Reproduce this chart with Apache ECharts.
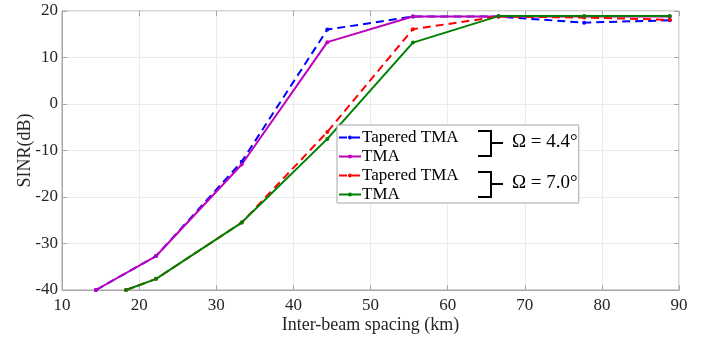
<!DOCTYPE html>
<html>
<head>
<meta charset="utf-8">
<script src="https://cdn.jsdelivr.net/npm/echarts@6/dist/echarts.min.js"></script>
<style>
  html, body { margin: 0; padding: 0; background: #fff; }
  #chart { width: 703px; height: 339px; }
</style>
</head>
<body>
<div id="chart"></div>
<script>
// spacing (km) and SINR (dB)
const spacing = [14.4, 22.2, 33.3, 44.4, 55.5, 66.6, 77.7, 88.8];
const spacing7 = [18.3, 22.2, 33.3, 44.4, 55.5, 66.6, 77.7, 88.8];

const taperedA = [-40, -32.7, -12.4, 16.0, 18.8, 18.8, 17.5, 18.0];
const tmaA = [-40, -32.7, -13.0, 13.3, 18.8, 18.8, 18.8, 18.8];
const taperedB = [-40, -37.6, -25.5, -6.0, 16.1, 18.8, 18.6, 18.1];
const tmaB = [-40, -37.6, -25.5, -7.5, 13.2, 18.9, 18.9, 18.9];

const names = ['Tapered TMA', 'TMA', 'Tapered TMA ', 'TMA '];
const colors = ['#0000ff', '#bf00bf', '#ff0000', '#008000'];

function pairs(xs, ys) {
  return xs.map((x, i) => [x, ys[i]]);
}

const font = 'Liberation Serif';
let chart = echarts.init(document.getElementById('chart'));

function makeSeries(name, xs, ys, color, dashed) {
  return {
    name: name,
    type: 'line',
    data: pairs(xs, ys),
    symbol: 'circle',
    symbolSize: 4,
    showSymbol: true,
    itemStyle: { color: color },
    lineStyle: { color: color, width: 2, type: dashed ? [8, 5] : 'solid' },
    animation: false,
  };
}

const tick = { show: true, inside: true, length: 5, lineStyle: { color: '#a6a6a6' } };

let option = {
  grid: {
    left: 62, right: 24, top: 11, bottom: 49,
    outerBoundsMode: 'none', containLabel: false,
    show: true, borderColor: '#a6a6a6', borderWidth: 1,
  },
  xAxis: [{
    type: 'value',
    min: 10, max: 90, interval: 10,
    name: 'Inter-beam spacing (km)',
    nameLocation: 'middle',
    nameGap: 26,
    nameMoveOverlap: false,
    nameTextStyle: { fontFamily: font, fontSize: 18, color: '#262626' },
    axisLine: { show: true, onZero: false, lineStyle: { color: '#a6a6a6' } },
    axisTick: tick,
    axisLabel: { fontFamily: font, fontSize: 17, color: '#262626', margin: 7 },
    splitLine: { show: true, lineStyle: { color: '#ebebeb' } },
  }, {
    type: 'value', position: 'top',
    min: 10, max: 90, interval: 10,
    axisLine: { show: false, onZero: false },
    axisTick: tick,
    axisLabel: { show: false },
    splitLine: { show: false },
  }],
  yAxis: [{
    type: 'value',
    min: -40, max: 20, interval: 10,
    name: 'SINR(dB)',
    nameLocation: 'middle',
    nameGap: 28,
    nameMoveOverlap: false,
    nameTextStyle: { fontFamily: font, fontSize: 18, color: '#262626' },
    axisLine: { show: true, onZero: false, lineStyle: { color: '#a6a6a6' } },
    axisTick: tick,
    axisLabel: { fontFamily: font, fontSize: 17, color: '#262626', margin: 4 },
    splitLine: { show: true, lineStyle: { color: '#ebebeb' } },
  }, {
    type: 'value', position: 'right',
    min: -40, max: 20, interval: 10,
    axisLine: { show: false, onZero: false },
    axisTick: tick,
    axisLabel: { show: false },
    splitLine: { show: false },
  }],
  legend: {
    data: names,
    orient: 'vertical',
    left: 337, top: 125,
    padding: [4, 116, 0, 1],
    itemWidth: 22, itemHeight: 5,
    itemGap: 2,
    backgroundColor: '#fff',
    borderColor: '#a6a6a6', borderWidth: 1, borderRadius: 0,
    textStyle: { fontFamily: font, fontSize: 17, lineHeight: 17, color: '#000', padding: [0, 0, 0, -4] },
    selectedMode: false,
  },
  graphic: [
    { type: 'polyline', z: 100, shape: { points: [[478, 131], [491, 131], [491, 156], [478, 156]] }, style: { stroke: '#000', lineWidth: 2, fill: null } },
    { type: 'line', z: 100, shape: { x1: 491, y1: 143, x2: 503, y2: 143 }, style: { stroke: '#000', lineWidth: 2 } },
    { type: 'text', z: 100, left: 512, top: 133, style: { text: 'Ω = 4.4°', font: '19px "Liberation Serif"', fill: '#000' } },
    { type: 'polyline', z: 100, shape: { points: [[478, 172], [491, 172], [491, 197], [478, 197]] }, style: { stroke: '#000', lineWidth: 2, fill: null } },
    { type: 'line', z: 100, shape: { x1: 491, y1: 184, x2: 503, y2: 184 }, style: { stroke: '#000', lineWidth: 2 } },
    { type: 'text', z: 100, left: 512, top: 174, style: { text: 'Ω = 7.0°', font: '19px "Liberation Serif"', fill: '#000' } },
  ],
  series: [
    makeSeries(names[0], spacing, taperedA, colors[0], true),
    makeSeries(names[1], spacing, tmaA, colors[1], false),
    makeSeries(names[2], spacing7, taperedB, colors[2], true),
    makeSeries(names[3], spacing7, tmaB, colors[3], false),
  ],
};

option && chart.setOption(option);
</script>
</body>
</html>
